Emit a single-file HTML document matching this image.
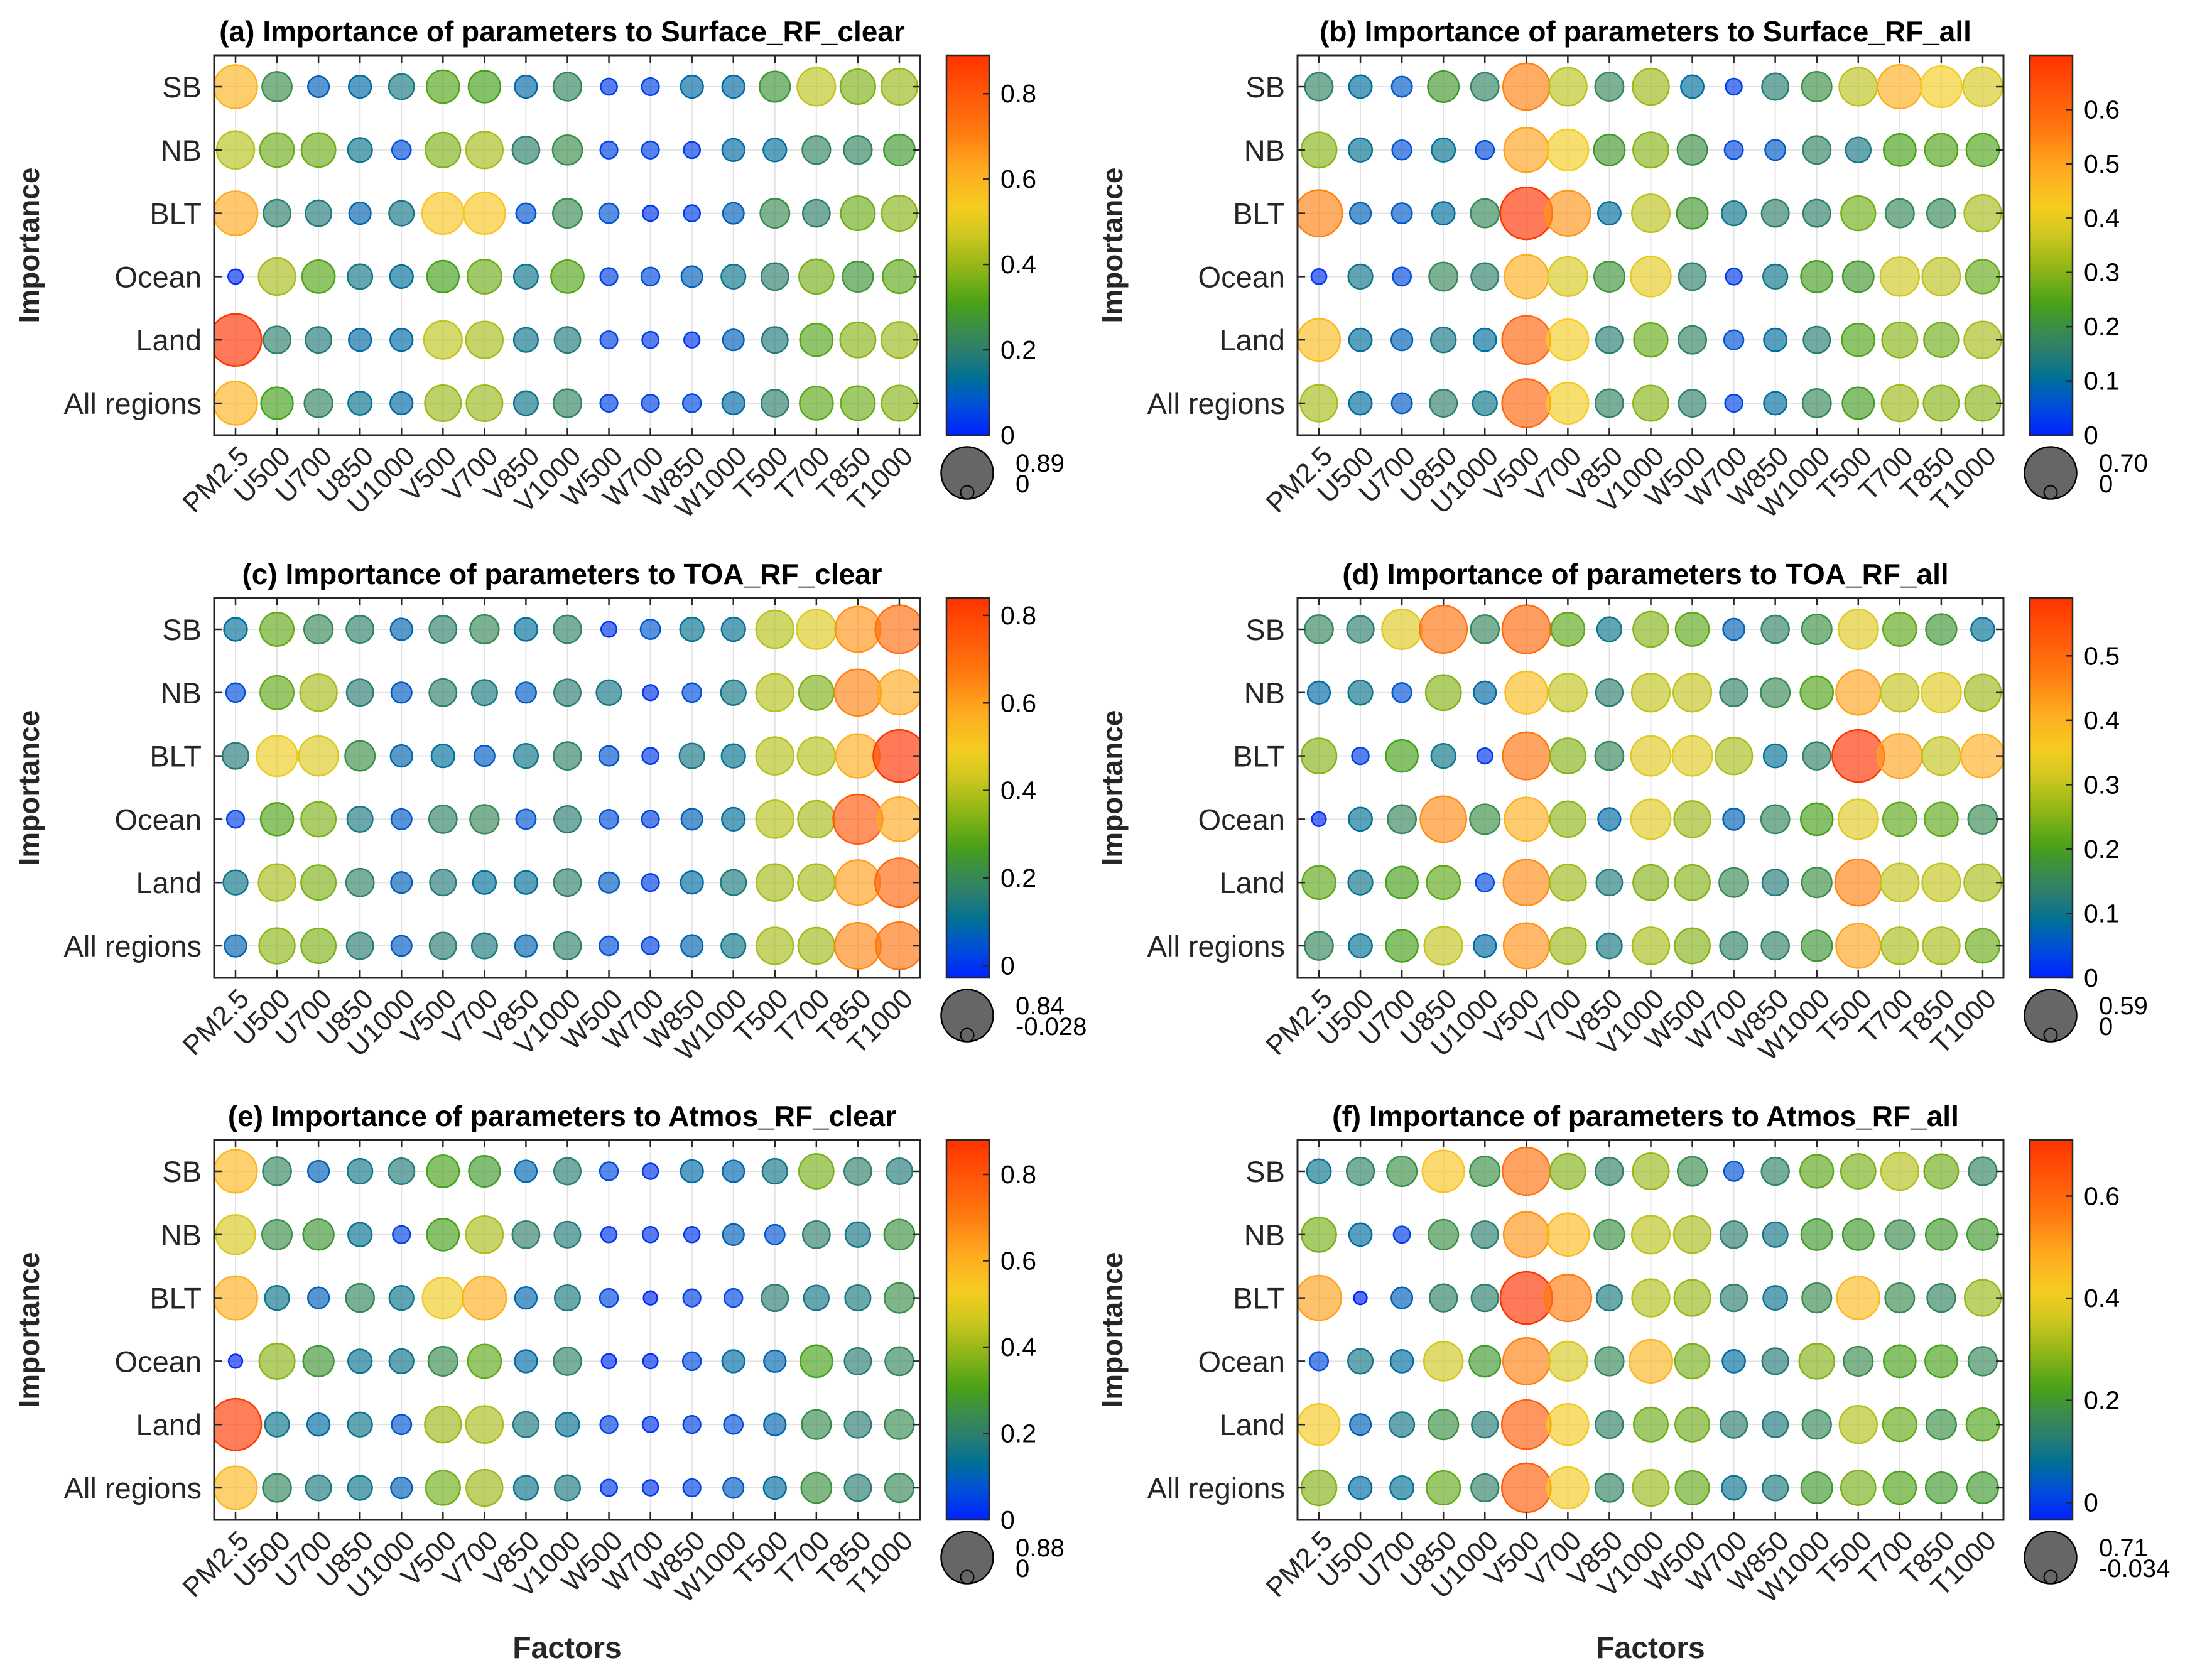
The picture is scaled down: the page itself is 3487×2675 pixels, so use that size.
<!DOCTYPE html>
<html><head><meta charset="utf-8">
<style>
html,body{margin:0;padding:0;background:#fff;}
svg{display:block;font-family:"Liberation Sans",Arial,sans-serif;}
</style></head>
<body>
<svg id="fig" width="3487" height="2675" viewBox="0 0 3487 2675" xmlns="http://www.w3.org/2000/svg"></svg>
<script>
const factors = ["PM2.5","U500","U700","U850","U1000","V500","V700","V850","V1000","W500","W700","W850","W1000","T500","T700","T850","T1000"];
const regions = ["SB","NB","BLT","Ocean","Land","All regions"];
const titles = ["(a) Importance of parameters to Surface_RF_clear","(b) Importance of parameters to Surface_RF_all","(c) Importance of parameters to TOA_RF_clear","(d) Importance of parameters to TOA_RF_all","(e) Importance of parameters to Atmos_RF_clear","(f) Importance of parameters to Atmos_RF_all"];
const rangeMin = [0, 0, -0.028, 0, 0, -0.034];
const rangeMax = [0.89, 0.70, 0.84, 0.59, 0.88, 0.71];
const minLabels = ["0","0","-0.028","0","0","-0.034"];
const maxLabels = ["0.89","0.70","0.84","0.59","0.88","0.71"];
const cbTicksA = [0,0.2,0.4,0.6,0.8];
const cbTicksB = [0,0.1,0.2,0.3,0.4,0.5,0.6];
const cbTicksC = [0,0.2,0.4,0.6,0.8];
const cbTicksD = [0,0.1,0.2,0.3,0.4,0.5];
const cbTicksE = [0,0.2,0.4,0.6,0.8];
const cbTicksF = [0,0.2,0.4,0.6];
const valuesA = [
[0.6,0.25,0.1,0.12,0.17,0.32,0.3,0.12,0.22,0.04,0.05,0.12,0.12,0.27,0.45,0.37,0.4],
[0.44,0.35,0.35,0.15,0.07,0.37,0.42,0.2,0.25,0.05,0.05,0.04,0.12,0.13,0.22,0.22,0.28],
[0.62,0.2,0.18,0.11,0.16,0.55,0.55,0.08,0.24,0.08,0.03,0.04,0.1,0.24,0.2,0.35,0.38],
[0.02,0.42,0.32,0.16,0.13,0.3,0.35,0.15,0.32,0.05,0.06,0.1,0.15,0.2,0.36,0.27,0.33],
[0.89,0.2,0.18,0.12,0.12,0.45,0.42,0.15,0.18,0.05,0.04,0.03,0.1,0.18,0.32,0.38,0.4],
[0.6,0.3,0.22,0.14,0.12,0.4,0.4,0.15,0.22,0.05,0.05,0.06,0.12,0.2,0.33,0.35,0.38]];
const valuesB = [
[0.17,0.1,0.07,0.22,0.17,0.55,0.35,0.18,0.32,0.1,0.03,0.15,0.2,0.35,0.48,0.42,0.38],
[0.3,0.11,0.06,0.11,0.05,0.5,0.42,0.22,0.3,0.2,0.05,0.07,0.17,0.13,0.24,0.25,0.25],
[0.55,0.08,0.07,0.1,0.18,0.70,0.52,0.1,0.35,0.22,0.12,0.16,0.16,0.28,0.18,0.18,0.33],
[0.02,0.12,0.05,0.18,0.16,0.48,0.38,0.21,0.4,0.16,0.03,0.12,0.23,0.22,0.37,0.35,0.27],
[0.45,0.1,0.08,0.13,0.1,0.6,0.42,0.15,0.27,0.17,0.06,0.1,0.15,0.25,0.3,0.28,0.33],
[0.33,0.1,0.07,0.16,0.12,0.6,0.42,0.17,0.3,0.16,0.04,0.1,0.18,0.23,0.32,0.3,0.3]];
const valuesC = [
[0.1,0.3,0.2,0.17,0.08,0.17,0.2,0.1,0.18,0.0,0.05,0.11,0.11,0.4,0.45,0.62,0.7],
[0.04,0.3,0.38,0.16,0.06,0.17,0.14,0.06,0.16,0.13,0.0,0.04,0.13,0.4,0.33,0.65,0.58],
[0.15,0.48,0.45,0.22,0.08,0.1,0.06,0.12,0.18,0.05,0.01,0.13,0.11,0.4,0.4,0.57,0.84],
[0.02,0.28,0.33,0.14,0.06,0.18,0.2,0.05,0.16,0.04,0.02,0.07,0.1,0.4,0.38,0.75,0.58],
[0.12,0.38,0.33,0.18,0.07,0.15,0.1,0.1,0.17,0.06,0.02,0.09,0.14,0.38,0.38,0.6,0.72],
[0.08,0.35,0.33,0.16,0.06,0.16,0.14,0.08,0.17,0.04,0.02,0.08,0.12,0.38,0.37,0.64,0.68]];
const valuesD = [
[0.15,0.13,0.33,0.48,0.15,0.5,0.22,0.1,0.25,0.22,0.07,0.14,0.17,0.33,0.22,0.18,0.09],
[0.08,0.1,0.05,0.25,0.08,0.38,0.3,0.13,0.3,0.3,0.14,0.16,0.21,0.42,0.3,0.33,0.27],
[0.25,0.03,0.2,0.1,0.02,0.48,0.25,0.15,0.33,0.33,0.28,0.09,0.14,0.59,0.42,0.3,0.4],
[0.01,0.09,0.15,0.45,0.17,0.4,0.26,0.08,0.33,0.27,0.07,0.15,0.2,0.33,0.22,0.22,0.16],
[0.22,0.1,0.2,0.22,0.04,0.45,0.27,0.12,0.25,0.25,0.16,0.12,0.17,0.46,0.3,0.3,0.28],
[0.15,0.09,0.2,0.3,0.08,0.44,0.27,0.11,0.28,0.25,0.14,0.14,0.18,0.42,0.28,0.28,0.23]];
const valuesE = [
[0.58,0.22,0.1,0.16,0.18,0.3,0.28,0.11,0.19,0.06,0.03,0.12,0.11,0.16,0.36,0.2,0.18],
[0.48,0.25,0.27,0.14,0.05,0.3,0.42,0.2,0.18,0.03,0.03,0.03,0.1,0.08,0.2,0.16,0.26],
[0.6,0.15,0.1,0.22,0.15,0.52,0.6,0.11,0.17,0.06,0.01,0.05,0.06,0.19,0.16,0.17,0.25],
[0.01,0.38,0.27,0.14,0.15,0.24,0.33,0.12,0.21,0.02,0.02,0.06,0.12,0.11,0.3,0.19,0.22],
[0.86,0.15,0.12,0.15,0.08,0.4,0.42,0.17,0.14,0.05,0.03,0.05,0.07,0.11,0.24,0.19,0.24],
[0.58,0.22,0.17,0.15,0.1,0.35,0.4,0.15,0.17,0.04,0.03,0.05,0.09,0.12,0.26,0.19,0.23]];
const valuesF = [
[0.09,0.14,0.18,0.43,0.18,0.58,0.28,0.14,0.3,0.17,0.03,0.14,0.24,0.27,0.33,0.26,0.15],
[0.27,0.07,0.0,0.18,0.13,0.52,0.45,0.18,0.34,0.32,0.13,0.1,0.2,0.2,0.17,0.2,0.2],
[0.5,-0.03,0.05,0.14,0.13,0.71,0.56,0.11,0.33,0.3,0.13,0.09,0.17,0.45,0.17,0.15,0.3],
[0.02,0.1,0.07,0.36,0.2,0.55,0.37,0.16,0.46,0.27,0.07,0.12,0.28,0.17,0.22,0.22,0.16],
[0.42,0.05,0.1,0.18,0.12,0.62,0.42,0.14,0.26,0.26,0.13,0.11,0.16,0.33,0.25,0.18,0.23],
[0.28,0.07,0.08,0.25,0.14,0.62,0.42,0.15,0.3,0.25,0.09,0.11,0.2,0.27,0.23,0.2,0.2]];

const allValues = [valuesA,valuesB,valuesC,valuesD,valuesE,valuesF];
const allTicks = [cbTicksA,cbTicksB,cbTicksC,cbTicksD,cbTicksE,cbTicksF];
const NS = "http://www.w3.org/2000/svg";
const svg = document.getElementById('fig');
function mk(tag, attrs, parent){const e=document.createElementNS(NS,tag);for(const k in attrs)e.setAttribute(k,attrs[k]);(parent||svg).appendChild(e);return e;}

const stops=[[0,[0,34,255]],[0.08,[0,80,216]],[0.15,[0,112,150]],[0.22,[44,126,112]],[0.28,[58,140,76]],[0.34,[69,160,24]],[0.45,[152,184,24]],[0.53,[208,200,32]],[0.6,[245,204,32]],[0.7,[255,170,32]],[0.8,[255,122,16]],[1.0,[255,51,0]]];
function cmap(f){f=Math.max(0,Math.min(1,f));for(let i=1;i<stops.length;i++){if(f<=stops[i][0]){const a=stops[i-1],b=stops[i];const t=(f-a[0])/(b[0]-a[0]);const c=a[1].map((v,j)=>Math.round(v+(b[1][j]-v)*t));return `rgb(${c[0]},${c[1]},${c[2]})`;}}return 'rgb(255,51,0)';}

const defs=mk('defs',{});
const grad=mk('linearGradient',{id:'cbg',x1:'0',y1:'1',x2:'0',y2:'0'},defs);
for(let i=0;i<=40;i++){mk('stop',{offset:(i/40),'stop-color':cmap(i/40)},grad);}

const boxW=1124, boxH=605;
const lefts=[341,2066], tops=[88,952,1815];
const RMIN=10, RMAX=41.5;

for(let p=0;p<6;p++){
  const L=lefts[p%2], T=tops[Math.floor(p/2)];
  const vals=allValues[p], vmin=rangeMin[p], vmax=rangeMax[p];
  const g=mk('g',{});
  
  
  const xAt=i=>L+34+i*66.06;
  const yAt=j=>T+50+j*100.8;
  const t=mk('text',{x:L+boxW/2-8,y:T-22,'text-anchor':'middle','font-size':46,'font-weight':'bold',fill:'#000'},g);
  t.textContent=titles[p];
  
  
  for(let i=0;i<factors.length;i++){mk('line',{x1:xAt(i),y1:T,x2:xAt(i),y2:T+boxH,stroke:'#e3e3e3','stroke-width':2},g);}
  for(let j=0;j<regions.length;j++){mk('line',{x1:L,y1:yAt(j),x2:L+boxW,y2:yAt(j),stroke:'#e3e3e3','stroke-width':2},g);}
  const cp=mk('clipPath',{id:'clip'+p},defs);
  mk('rect',{x:L,y:T,width:boxW,height:boxH},cp);
  const bg=mk('g',{'clip-path':'url(#clip'+p+')'},g);
  
  
  for(let j=0;j<regions.length;j++){
    for(let i=0;i<factors.length;i++){
      const v=vals[j][i];
      const f=(v-vmin)/(vmax-vmin);
      const r=Math.sqrt(RMIN*RMIN+(RMAX*RMAX-RMIN*RMIN)*Math.max(0,f));
      const col=cmap(f);
      const c=mk('circle',{cx:xAt(i),cy:yAt(j),r:r.toFixed(1),fill:col,'fill-opacity':0.65,stroke:col,'stroke-width':2.5},bg);
      
      
    }
  }
  const box=mk('rect',{x:L,y:T,width:boxW,height:boxH,fill:'none',stroke:'#262626','stroke-width':3},g);
  
  
  for(let i=0;i<factors.length;i++){
    mk('line',{x1:xAt(i),y1:T,x2:xAt(i),y2:T+12,stroke:'#262626','stroke-width':2.5},g);
    mk('line',{x1:xAt(i),y1:T+boxH,x2:xAt(i),y2:T+boxH-12,stroke:'#262626','stroke-width':2.5},g);
    const ax=xAt(i)+24, ay=T+boxH+36;
    const tl=mk('text',{x:ax,y:ay,'text-anchor':'end','font-size':44,fill:'#262626',transform:`rotate(-45 ${ax} ${ay})`},g);
    tl.textContent=factors[i];
    
    
  }
  for(let j=0;j<regions.length;j++){
    mk('line',{x1:L,y1:yAt(j),x2:L+12,y2:yAt(j),stroke:'#262626','stroke-width':2.5},g);
    mk('line',{x1:L+boxW,y1:yAt(j),x2:L+boxW-12,y2:yAt(j),stroke:'#262626','stroke-width':2.5},g);
    const yl=mk('text',{x:L-20,y:yAt(j)+17,'text-anchor':'end','font-size':47,fill:'#262626'},g);
    yl.textContent=regions[j];
    
    
  }
  const yx=(p%2===0)?62:1787, yy=T+boxH/2;
  const yt=mk('text',{x:yx,y:yy,'text-anchor':'middle','font-size':46,'font-weight':'bold',fill:'#262626',transform:`rotate(-90 ${yx} ${yy})`},g);
  yt.textContent='Importance';
  
  
  const cbx=L+1166, cbw=68;
  const cb=mk('rect',{x:cbx,y:T,width:cbw,height:boxH,fill:'url(#cbg)',stroke:'#262626','stroke-width':2.5},g);
  
  
  allTicks[p].forEach(tv=>{
    const ty=T+boxH-(tv-vmin)/(vmax-vmin)*boxH;
    mk('line',{x1:cbx+cbw,y1:ty,x2:cbx+cbw-10,y2:ty,stroke:'#262626','stroke-width':2.5},g);
    const ct=mk('text',{x:cbx+cbw+18,y:ty+14,'font-size':41,fill:'#000'},g);
    ct.textContent=String(tv);
    
    
  });
  const lcx=cbx+33, lcy=T+665;
  const big=mk('circle',{cx:lcx,cy:lcy,r:41.5,fill:'#666',stroke:'#000','stroke-width':2.5},g);
  
  
  const sm=mk('circle',{cx:lcx,cy:lcy+31,r:10.5,fill:'#666',stroke:'#000','stroke-width':2},g);
  
  
  const l1=mk('text',{x:lcx+77,y:lcy-2,'font-size':40,fill:'#000'},g);
  l1.textContent=maxLabels[p];
  
  
  const l2=mk('text',{x:lcx+77,y:lcy+31,'font-size':40,fill:'#000'},g);
  l2.textContent=minLabels[p];
  
  
  if(p>=4){
    const xt=mk('text',{x:L+boxW/2,y:2640,'text-anchor':'middle','font-size':48,'font-weight':'bold',fill:'#262626'},g);
    xt.textContent='Factors';
    
    
  }
}
</script>
</body></html>
